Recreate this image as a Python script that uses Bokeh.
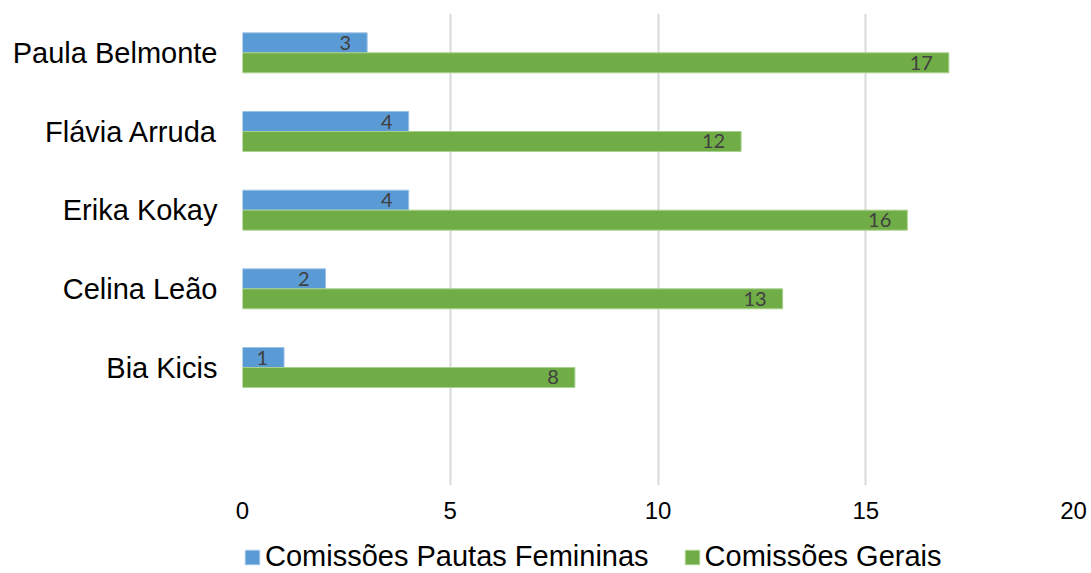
from bokeh.plotting import figure
from bokeh.layouts import column
from bokeh.models import ColumnDataSource, Range1d, FixedTicker, Legend, LegendItem
from bokeh.core.properties import value
from bokeh.embed import file_html
from bokeh.resources import INLINE

names = ["Paula Belmonte", "Flávia Arruda", "Erika Kokay", "Celina Leão", "Bia Kicis"]
pautas = [3, 4, 4, 2, 1]
gerais = [17, 12, 16, 13, 8]
series_names = ["Comissões Pautas Femininas", "Comissões Gerais"]
x_ticks = [0, 5, 10, 15, 20]

blue = "#5B9BD5"
green = "#70AD47"

n = len(names)
slots = n + 1  # an empty slot below the last category
ypos = [n - i + 0.5 for i in range(n)]
bh = 0.254

src = ColumnDataSource(dict(
    y=ypos,
    yb=[v + bh / 2 for v in ypos],
    yg=[v - bh / 2 for v in ypos],
    pautas=pautas,
    gerais=gerais,
    pl=[str(v) for v in pautas],
    gl=[str(v) for v in gerais],
))

p = figure(width=1091, height=529, output_backend="svg", toolbar_location=None,
           x_range=Range1d(0, 20), y_range=Range1d(0, slots),
           min_border_left=242, min_border_right=18, min_border_top=13, min_border_bottom=44)
p.outline_line_color = None
p.background_fill_color = "white"
p.border_fill_color = "white"

p.hbar(y="yb", height=bh, left=0, right="pautas", source=src,
       fill_color=blue, line_color="#9DC3E6", line_width=1)
p.hbar(y="yg", height=bh, left=0, right="gerais", source=src,
       fill_color=green, line_color="#A9D18E", line_width=1)

p.text(x="pautas", y="yb", text="pl", source=src, text_align="right", text_baseline="middle",
       x_offset=-16, text_font=value("Lato"), text_font_size="20px", text_color="#404040")
p.text(x="gerais", y="yg", text="gl", source=src, text_align="right", text_baseline="middle",
       x_offset=-16, text_font=value("Lato"), text_font_size="20px", text_color="#404040")

# grid
p.xgrid.ticker = FixedTicker(ticks=x_ticks)
p.xgrid.grid_line_color = "#D9D9D9"
p.xgrid.grid_line_width = 2
p.ygrid.grid_line_color = None

# x axis
p.xaxis.ticker = FixedTicker(ticks=x_ticks)
p.xaxis.axis_line_color = None
p.xaxis.major_tick_line_color = None
p.xaxis.minor_tick_line_color = None
p.xaxis.major_tick_out = 0
p.xaxis.major_tick_in = 0
p.xaxis.major_label_text_font = "Liberation Sans"
p.xaxis.major_label_text_font_size = "24px"
p.xaxis.major_label_text_color = "black"
p.xaxis.major_label_standoff = 16

# y axis
p.yaxis.ticker = FixedTicker(ticks=ypos)
p.yaxis.major_label_overrides = {y: nm for y, nm in zip(ypos, names)}
p.yaxis.axis_line_color = None
p.yaxis.major_tick_line_color = None
p.yaxis.minor_tick_line_color = None
p.yaxis.major_label_text_font = "Liberation Sans"
p.yaxis.major_label_text_font_size = "29px"
p.yaxis.major_label_text_color = "black"
p.yaxis.major_label_standoff = 19

# legend strip below the chart (key glyphs use off-screen placeholder bars)
lg = figure(width=1091, height=44, output_backend="svg", toolbar_location=None,
            x_range=Range1d(0, 1), y_range=Range1d(0, 1),
            x_axis_type=None, y_axis_type=None,
            min_border_left=0, min_border_right=0, min_border_top=0, min_border_bottom=0)
lg.outline_line_color = None
lg.xgrid.visible = False
lg.ygrid.visible = False
key = dict(y=[-10], right=[1])
lb = lg.hbar(y="y", right="right", height=0.1, source=ColumnDataSource(key),
             fill_color=blue, line_color="#9DC3E6")
lgn = lg.hbar(y="y", right="right", height=0.1, source=ColumnDataSource(key),
              fill_color=green, line_color="#A9D18E")

legend = Legend(items=[LegendItem(label=series_names[0], renderers=[lb]),
                       LegendItem(label=series_names[1], renderers=[lgn])],
                orientation="horizontal", location=(1, 0),
                glyph_width=18, glyph_height=18, label_standoff=4, spacing=34,
                padding=0, margin=0, border_line_color=None, background_fill_alpha=0,
                label_text_font="Liberation Sans", label_text_font_size="29px",
                label_text_color="black")
lg.add_layout(legend, "center")

layout = column(p, lg, spacing=0)
open("out.html", "w").write(file_html(layout, INLINE))
